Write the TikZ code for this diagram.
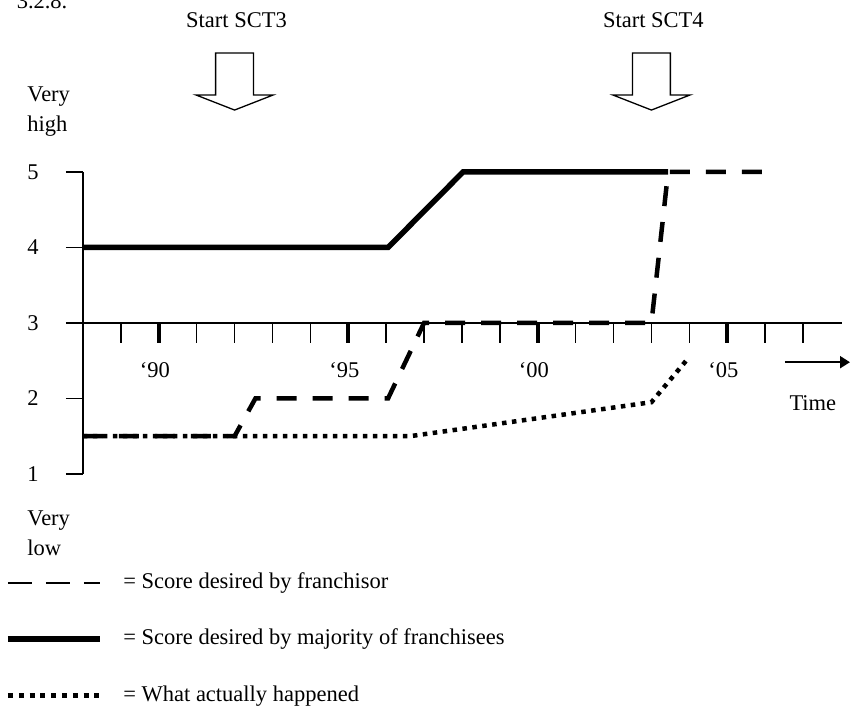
\documentclass[tikz,border=0pt]{standalone}
\usepackage{fontspec}
\setmainfont{Liberation Serif}
\usetikzlibrary{arrows.meta}

\begin{document}
\begin{tikzpicture}[x=37.9pt, y=75.5pt, every node/.style={font=\fontsize{22.5}{30}\selectfont, inner sep=0pt},
    franchisor/.style={line width=4.5pt, dash pattern=on 20pt off 16pt},
    franchisees/.style={line width=5.5pt, line join=miter},
    actual/.style={line width=4.5pt, dash pattern=on 4.5pt off 5.5pt}]
    \useasboundingbox (-2.19,-2.192) rectangle (20.24,7.278);

    \node[anchor=base] (sec) at (-1.08,7.17) {3.2.8.};

    % start arrows
    \foreach \k/\s in {4/SCT3, 15/SCT4} {
        \node[anchor=base] (start\s) at (\k+0.05,6.92) {Start \s};
        \draw[line width=1.3pt] ({\k-0.5},6.576) -- ({\k+0.5},6.576) -- ({\k+0.5},6.02) -- ({\k+1.02},6.02)
            -- (\k,5.82) -- ({\k-1.02},6.02) -- ({\k-0.5},6.02) -- cycle;
    }

    % axes
    \draw[line width=1.4pt] (0,5) -- (0,1);
    \draw[line width=1.4pt] (-0.45,3) -- (20.03,3);
    \foreach \s in {1,2,4,5}
        \draw[line width=1.4pt] (-0.45,\s) -- (0,\s);
    \foreach \s in {1,...,5}
        \node (y\s) at (-1.32,\s) {\s};
    \node[anchor=west, align=left] (high) at (-1.47,5.8) {Very\\high};
    \node[anchor=west, align=left] (low) at (-1.47,0.22) {Very\\low};

    \foreach \k in {1,...,19}
        \draw[line width=1.4pt] (\k,3) -- (\k,2.735);
    \foreach \k/\yr in {2/90, 7/95, 12/00, 17/05} {
        \draw[line width=4pt] (\k,3) -- (\k,2.735);
        \node (yr\yr) at (\k-0.1,2.38) {‘\yr};
    }

    \coordinate (tstart) at (18.52,2.48);
    \coordinate (tend) at (20.24,2.48);
    \draw[line width=2pt, -{Triangle[length=10pt,width=12pt]}] (tstart) -- (tend);
    \node (time) at (19.26,1.94) {Time};

    % the three scores
    \draw[franchisees] (0,4) -- (8.05,4) -- (10.03,5) -- (15.44,5);
    \draw[franchisor] (0,1.5) -- (4,1.5) -- (4.55,2) -- (8.05,2) -- (9.0,3) -- (15,3) -- (15.44,5) -- (18,5);
    \draw[actual] (0,1.5) -- (8.63,1.5) -- (15,1.95) -- (16,2.55);

    % legend
    \draw[line width=2pt, dash pattern=on 24pt off 14pt] (-1.98,-0.444) -- (0.45,-0.444);
    \draw[line width=6pt] (-1.98,-1.185) -- (0.45,-1.185);
    \draw[line width=5pt, dash pattern=on 5pt off 5.8pt] (-1.98,-1.94) -- (0.45,-1.94);
    \node[anchor=west] (leg1) at (1.06,-0.444) {= Score desired by franchisor};
    \node[anchor=west] (leg2) at (1.06,-1.185) {= Score desired by majority of franchisees};
    \node[anchor=west] (leg3) at (1.06,-1.94) {= What actually happened};
\end{tikzpicture}
\end{document}
